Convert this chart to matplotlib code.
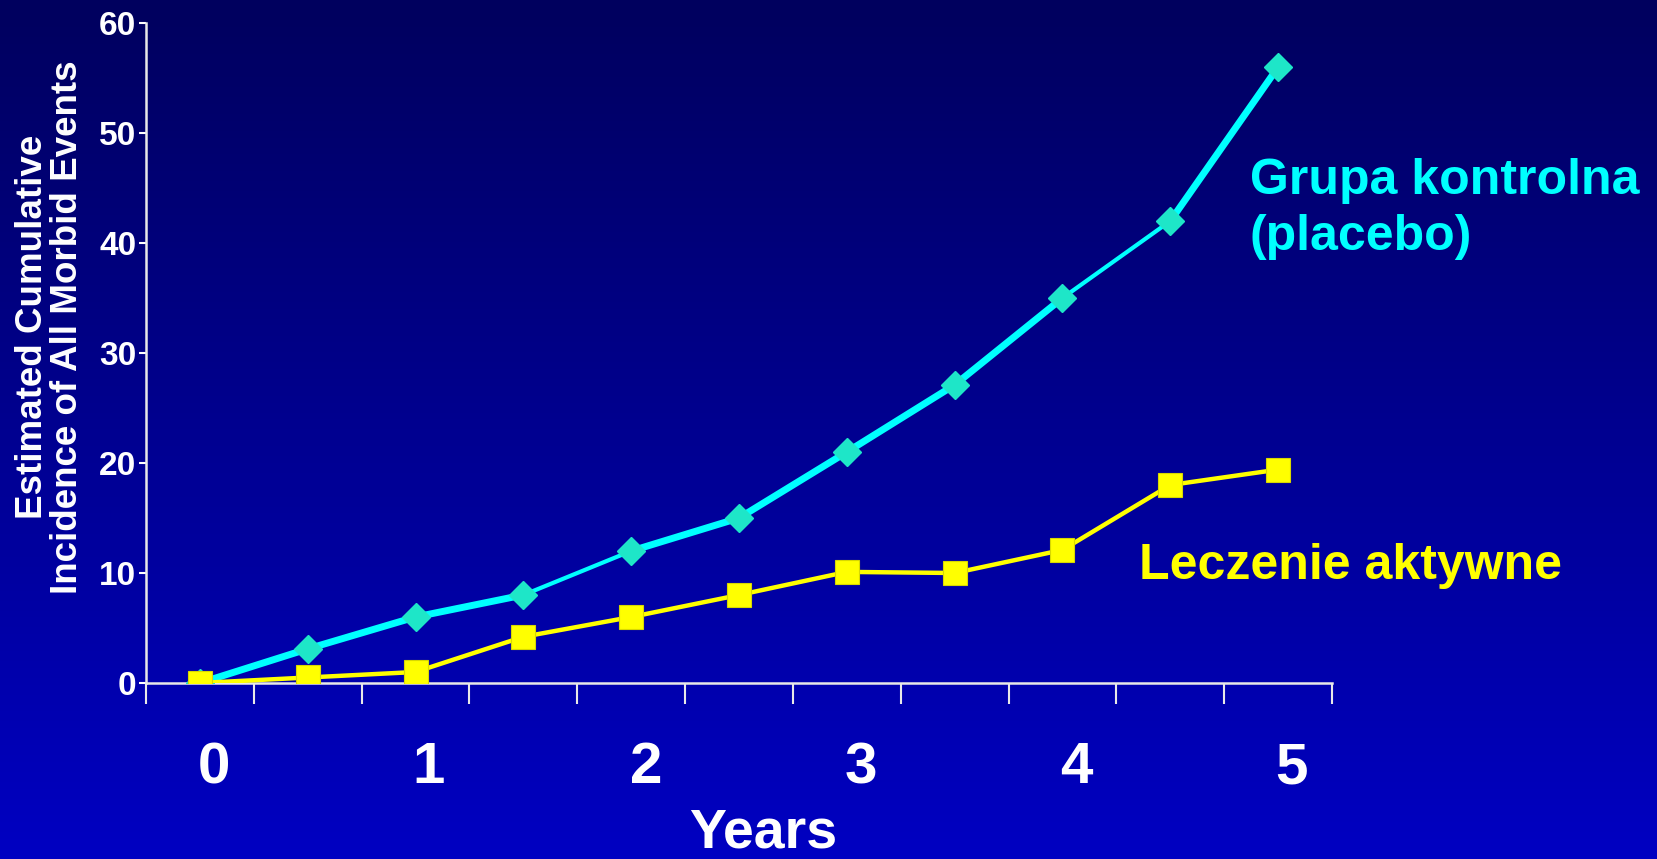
import numpy as np
import matplotlib
matplotlib.use("Agg")
import matplotlib.pyplot as plt
from matplotlib.colors import LinearSegmentedColormap

# data (half-year steps)
periods = list(range(11))
placebo = [0, 3.1, 6.0, 8.0, 12.0, 15.0, 21.0, 27.1, 35.0, 42.0, 56.0]
active = [0, 0.5, 1.0, 4.2, 6.0, 8.0, 10.1, 10.0, 12.1, 18.0, 19.4]
year_labels = ["0", "1", "2", "3", "4", "5"]
y_ticks = [0, 10, 20, 30, 40, 50, 60]

plt.rcParams['font.family'] = ['Liberation Sans', 'DejaVu Sans']
plt.rcParams['font.weight'] = 'bold'

fig = plt.figure(figsize=(16.57, 8.59), dpi=100)

# background gradient
bg = fig.add_axes([0, 0, 1, 1], zorder=-10)
cmap = LinearSegmentedColormap.from_list("bg", ["#00005e", "#0000c2"])
grad = np.linspace(0, 1, 256).reshape(-1, 1)
bg.imshow(grad, aspect="auto", cmap=cmap, extent=[0, 1, 1, 0])
bg.axis("off")

ax = fig.add_axes([0.0881, 0.2049, 0.7158, 0.7683])
ax.patch.set_alpha(0)

# placebo line, some segments drawn thinner like in the slide
seg_w = [5, 5, 5, 3, 5, 5, 5, 5, 3, 5]
for i in range(len(periods) - 1):
	ax.plot(periods[i:i+2], placebo[i:i+2], color="#00ffff", lw=seg_w[i],
		solid_capstyle="round", zorder=3)
ax.plot(periods, placebo, ls="none", marker="D", ms=14, color="#1ee6c8",
	markeredgecolor="#1ee6c8", zorder=4)
ax.plot(periods, active, color="#ffff00", lw=3.2, marker="s", ms=17,
	markeredgecolor="#d8d800", markeredgewidth=0.8, zorder=5)

ax.set_xlim(-0.5, 10.5)
ax.set_ylim(0, 60)
ax.set_yticks(y_ticks)
ax.set_yticklabels([str(v) for v in y_ticks], fontsize=24, color="white", fontweight="bold")
ax.tick_params(axis="y", colors="white", length=5, width=1.5, pad=2)
ax.set_xticks(np.arange(-0.5, 11, 1))
ax.set_xticklabels([])
ax.tick_params(axis="x", colors="#e8e8e8", length=15, width=1.5, direction="out")

for s in ["top", "right"]:
	ax.spines[s].set_visible(False)
for s in ["left", "bottom"]:
	ax.spines[s].set_color("#e8e8e8")
	ax.spines[s].set_linewidth(1.8)

# year labels under the axis
year_x = [214, 429, 646, 861, 1076, 1291]
for lab, xp in zip(year_labels, year_x):
	fig.text(xp / 1657, 1 - 768 / 859, lab, fontsize=42, color="white",
		fontweight="bold", ha="center", va="center")
fig.text(763 / 1657, 1 - 834 / 859, "Years", fontsize=40, color="white",
	fontweight="bold", ha="center", va="center")

fig.text(50 / 1657, 1 - 327 / 859, "Estimated Cumulative\nIncidence of All Morbid Events",
	fontsize=26.5, color="white", fontweight="bold", rotation=90, ha="center",
	va="center", linespacing=1.0)

fig.text(1250 / 1657, 1 - 209 / 859, "Grupa kontrolna\n(placebo)", fontsize=36,
	color="#00ffff", fontweight="bold", ha="left", va="center", linespacing=1.3)
fig.text(1139 / 1657, 1 - 566 / 859, "Leczenie aktywne", fontsize=36,
	color="#ffff00", fontweight="bold", ha="left", va="center")

fig.savefig("out.png", dpi=100)
